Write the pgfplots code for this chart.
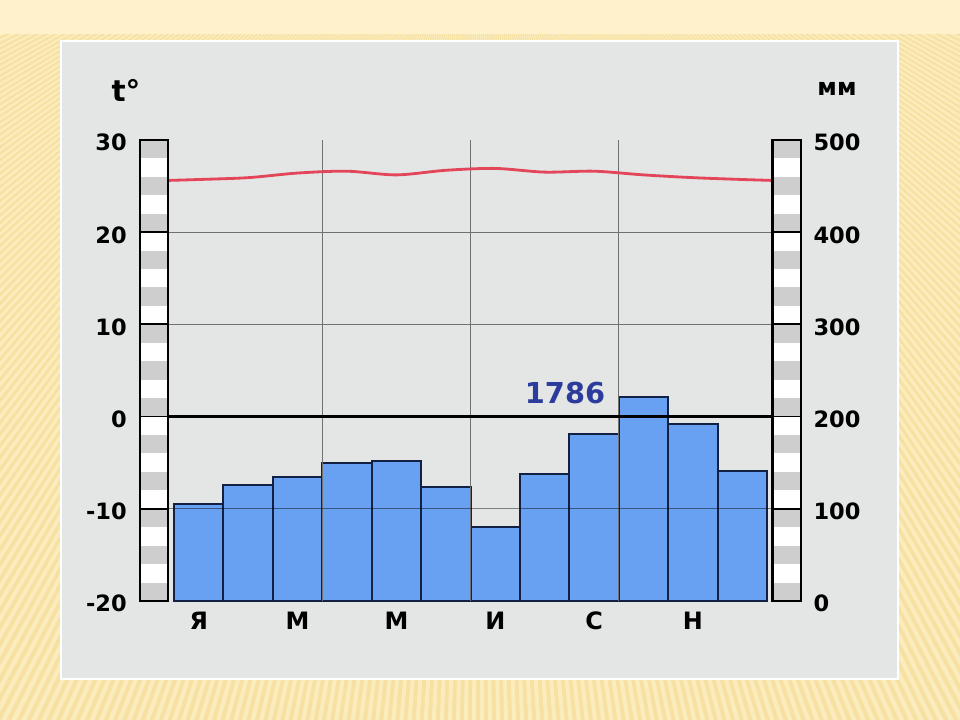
\documentclass[border=0pt]{standalone}
\usepackage{fontspec}
\setmainfont{DejaVu Sans}
\usepackage{pgfplots}
\pgfplotsset{compat=1.18}

\definecolor{slidebase}{RGB}{246,225,162}
\definecolor{slideray}{RGB}{251,236,190}
\definecolor{slidetop}{RGB}{255,241,203}
\definecolor{panel}{RGB}{228,230,230}
\definecolor{barblue}{RGB}{104,160,242}
\definecolor{barnavy}{RGB}{18,32,68}
\definecolor{gridc}{RGB}{112,112,112}
\definecolor{stripe}{RGB}{206,206,206}
\definecolor{templine}{RGB}{226,70,88}
\definecolor{sumblue}{RGB}{43,60,156}

\newcommand{\tickfont}{\fontsize{16}{16}\selectfont\bfseries}

\begin{document}
\begin{tikzpicture}[x=0.025cm,y=0.025cm]
% slide background (960 x 720 px, 1 px = 0.025 cm)
\begin{scope}
  \clip (0,0) rectangle (960,720);
  \fill[slidebase] (0,0) rectangle (960,720);
  \foreach \a in {203,203.5,...,337}
    \fill[slideray] (480,920) -- +(\a:2200) -- +(\a+0.25:2200) -- cycle;
  \fill[slidetop] (0,686) rectangle (960,720);
\end{scope}
% grey panel
\fill[white] (60,40) rectangle (899,680);
\fill[panel] (62,42) rectangle (897,678);

% precipitation (mm), right scale
\begin{axis}[
  at={(3.5cm,2.975cm)}, anchor=south west,
  width=16.525cm, height=11.525cm, scale only axis,
  xmin=-0.188, xmax=13.19, ymin=0, ymax=500,
  axis line style={draw=none}, major tick length=0pt,
  xtick=\empty,
  ytick={0,100,200,300,400,500},
  yticklabels={0,100,200,300,400,500},
  yticklabel pos=right,
  yticklabel style={font=\tickfont, anchor=west, inner sep=0pt, xshift=0.3cm, yshift=-0.07cm},
  clip=false,
]
\addplot[ybar, bar width=1, fill=barblue, draw=barnavy, line width=1.4pt]
  coordinates {(1,105) (2,126) (3,134) (4,150) (5,152) (6,124)
               (7,80) (8,138) (9,181) (10,221) (11,192) (12,141)};
\end{axis}

% temperature (deg C), left scale
\begin{axis}[
  at={(3.5cm,2.975cm)}, anchor=south west,
  width=16.525cm, height=11.525cm, scale only axis,
  xmin=-0.188, xmax=13.19, ymin=-20, ymax=30,
  axis line style={draw=none}, major tick length=0pt,
  xtick={1,3,5,7,9,11}, xticklabels={Я,М,М,И,С,Н},
  xticklabel style={font=\fontsize{17}{17}\selectfont\bfseries, anchor=center, inner sep=0pt, yshift=-0.5cm},
  ytick={-20,-10,0,10,20,30},
  yticklabels={-20,-10,0,10,20,30},
  yticklabel style={font=\tickfont, anchor=east, inner sep=0pt, xshift=-0.325cm, yshift=-0.07cm},
  clip=false,
]
% grid
\draw[gridc, line width=0.7pt] (axis cs:3.5,-20) -- (axis cs:3.5,30);
\draw[gridc, line width=0.7pt] (axis cs:6.5,-20) -- (axis cs:6.5,30);
\draw[gridc, line width=0.7pt] (axis cs:9.5,-20) -- (axis cs:9.5,30);
\draw[gridc, line width=0.7pt] (axis cs:0.379,20) -- (axis cs:12.605,20);
\draw[gridc, line width=0.7pt] (axis cs:0.379,10) -- (axis cs:12.605,10);
\draw[black, opacity=0.45, line width=0.8pt] (axis cs:0.379,-10) -- (axis cs:12.605,-10);
\draw[black, line width=1.6pt] (axis cs:0.379,0) -- (axis cs:12.605,0);

\addplot[templine, line width=2pt, smooth, tension=0.5] coordinates {
  (0.379,25.6) (1,25.7) (2,25.9) (3,26.4) (4,26.6) (5,26.2) (6,26.7)
  (7,26.9) (8,26.5) (9,26.6) (10,26.2) (11,25.9) (12,25.7) (12.605,25.6)};

% striped scale bars: grey bands 2 units high, starting at the top
\fill[white] (axis cs:-0.188,-20) rectangle (axis cs:0.379,30);
\fill[white] (axis cs:12.605,-20) rectangle (axis cs:13.19,30);
\foreach \t in {28,24,...,-20} {
  \pgfmathtruncatemacro\tt{\t+2}
  \edef\tmp{\noexpand\fill[stripe] (axis cs:-0.188,\t) rectangle (axis cs:0.379,\tt);
            \noexpand\fill[stripe] (axis cs:12.605,\t) rectangle (axis cs:13.19,\tt);}
  \tmp
}
\foreach \t in {-10,0,10,20} {
  \edef\tmp{\noexpand\draw[black, line width=1.4pt] (axis cs:-0.188,\t) -- (axis cs:0.379,\t);
            \noexpand\draw[black, line width=1.4pt] (axis cs:12.605,\t) -- (axis cs:13.19,\t);}
  \tmp
}
\draw[black, line width=1.8pt] (axis cs:-0.188,-20) rectangle (axis cs:0.379,30);
\draw[black, line width=1.8pt] (axis cs:12.605,-20) rectangle (axis cs:13.19,30);
\end{axis}

% labels
\node[font=\fontsize{21}{21}\selectfont\bfseries, inner sep=0pt] at (126,630) {t°};
\node[font=\fontsize{17}{17}\selectfont\bfseries, inner sep=0pt] at (837,631) {мм};
\node[font=\fontsize{20.5}{20.5}\selectfont\bfseries, text=sumblue, inner sep=0pt] at (565,327) {1786};
\end{tikzpicture}
\end{document}
